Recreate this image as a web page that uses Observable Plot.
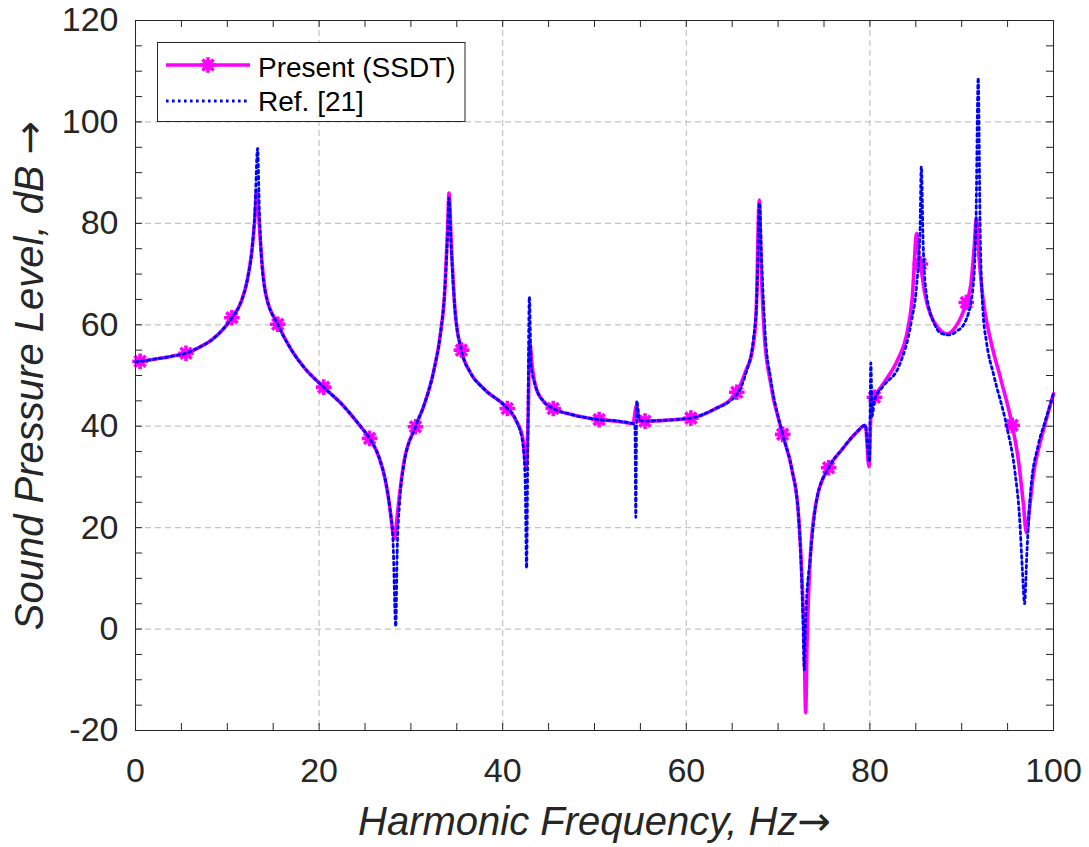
<!DOCTYPE html>
<html>
<head>
<meta charset="utf-8">
<script src="https://cdn.jsdelivr.net/npm/d3@7"></script>
<script src="https://cdn.jsdelivr.net/npm/@observablehq/plot@0.6"></script>
<style>
  html, body { margin: 0; padding: 0; background: #fff; }
  #chart svg { display: block; }
</style>
</head>
<body>
<div id="chart"></div>
<script>
// ---- Data ----
const presentFreq = [0, 0.5, 2, 4, 5.5, 7, 8.5, 10.5, 11.5, 12.2, 12.7, 13.0, 13.2, 13.4, 13.7, 14.2, 15.5, 17, 18.5, 20.5,
  22.5, 24.5, 25.5, 26.5, 27.2, 27.7, 28.0, 28.2, 28.4, 28.7, 29.2, 30.5, 31.5, 32.5, 33.2, 33.7, 34.0, 34.15, 34.4, 34.8,
  35.5, 36.5, 38, 40.5, 41.5, 42.2, 42.55, 42.75, 42.95, 43.2, 43.6, 44.5, 45.5, 47.5, 50.5, 52.5, 54.2, 54.55, 54.9, 55.5,
  58, 60.5, 63, 65.5, 66.5, 67.2, 67.6, 67.95, 68.15, 68.5, 69.1, 70.5, 71.5, 72.2, 72.6, 72.85, 73.0, 73.15, 73.5, 74.2,
  75.5, 77, 78.5, 79.5, 79.9, 80.15, 80.5, 81.5, 83, 84, 84.6, 85.1, 85.3, 85.5, 86, 86.6, 87.4, 88.4, 89.3, 90.5,
  91.0, 91.35, 91.6, 91.9, 92.3, 93.2, 94.3, 95.5, 96.2, 96.7, 97.05, 97.4, 97.8, 98.5, 99.1, 100];
const presentSpl = [52.7, 52.8, 53.2, 53.8, 54.4, 55.6, 57.3, 61.4, 64.5, 69, 75, 81, 86.5, 82, 74, 66, 60.1, 55, 51.3, 47.7,
  44.3, 40, 37.6, 34, 29.5, 24, 19.5, 17.8, 20.5, 25.5, 32.5, 39.9, 44.5, 51, 58, 67, 79, 86, 76, 63,
  55, 50.5, 47.3, 43.5, 41, 37.5, 32, 40, 56.5, 52, 47.8, 44.8, 43.5, 42.3, 41.3, 41, 40.5, 44, 41.2, 41.0,
  41.2, 41.6, 43.3, 46.7, 51, 55, 62, 84.6, 72, 58, 49.3, 38.4, 31.5, 23, 10, -3, -16.5, -3, 14, 25.5,
  31.8, 35.5, 38.7, 40.2, 32, 44, 45.7, 48.5, 53, 58, 65, 78, 74, 72, 66, 62, 59.5, 58.2, 59.5, 64.4,
  68, 75, 81, 73, 65.4, 56.6, 49, 40.2, 33, 25, 19, 24, 30.4, 36.5, 40.6, 46.4];

const refFreq = [0, 0.5, 2, 4, 5.5, 7, 8.5, 10.5, 11.5, 12.2, 12.7, 13.0, 13.3, 13.5, 13.7, 14.2, 15.5, 17, 18.5, 20.5,
  22.5, 24.5, 25.5, 26.5, 27.2, 27.7, 28.05, 28.35, 28.5, 28.75, 29.2, 30.5, 31.5, 32.5, 33.2, 33.7, 34.0, 34.15, 34.4, 34.8,
  35.5, 36.5, 38, 40.5, 41.5, 42.2, 42.45, 42.6, 42.75, 42.9, 43.1, 43.6, 44.5, 45.5, 47.5, 50.5, 52.5, 54.2, 54.4, 54.5,
  54.6, 54.9, 55.5, 58, 60.5, 63, 65.5, 66.5, 67.3, 67.7, 67.98, 68.2, 68.6, 69.2, 70.5, 71.5, 72.2, 72.5, 72.7, 72.85,
  73.0, 73.5, 74.2, 75.5, 77, 78.5, 79.5, 79.95, 80.1, 80.25, 80.5, 81.5, 83.2, 84.5, 85.1, 85.45, 85.6, 85.8, 86.1, 87.0,
  87.8, 88.6, 89.5, 90.3, 91.2, 91.55, 91.8, 92.0, 92.3, 92.7, 93.5, 94.9, 95.8, 96.3, 96.6, 96.85, 97.1, 97.5, 98.3, 99.1, 100];
const refSpl = [52.7, 52.8, 53.2, 53.8, 54.4, 55.6, 57.3, 61.4, 64.5, 69, 75, 82, 94.8, 82, 74, 66, 60.1, 55, 51.3, 47.7,
  44.3, 40, 37.6, 34, 29.5, 24, 17.5, 0.5, 15, 24.5, 32, 39.9, 44.5, 51, 58, 67, 78, 85, 75, 63,
  55, 50.5, 47.3, 43.5, 41, 36.5, 29, 12, 40, 65.5, 52, 47.8, 44.8, 43.5, 42.3, 41.3, 41, 40.5, 40.3, 22,
  45, 41.2, 41.0, 41.2, 41.6, 43.3, 46.3, 50.5, 57, 66, 84, 73, 58, 49.3, 38.4, 31.5, 23, 13, 2, -8,
  2, 14, 25.5, 31.8, 35.5, 38.7, 40.2, 33, 52.5, 42, 45.2, 48, 52, 60.5, 68, 78, 91.2, 76, 66.8, 60.3,
  58.3, 58, 58.8, 60.3, 66.8, 80, 108.7, 80, 63, 56.6, 50, 40, 31, 22, 12, 5, 15, 27, 36, 41, 46.4];

const markerFreq = [0.5, 5.5, 10.5, 15.5, 20.5, 25.5, 30.5, 35.5, 40.5, 45.5, 50.5, 55.5, 60.5, 65.5, 70.5, 75.5, 80.5, 85.5, 90.5, 95.5];

const xTicks = [0, 20, 40, 60, 80, 100];
const yTicks = [-20, 0, 20, 40, 60, 80, 100, 120];
const xMinorTicks = [0, 5, 10, 15, 20, 25, 30, 35, 40, 45, 50, 55, 60, 65, 70, 75, 80, 85, 90, 95, 100];
const yMinorTicks = [-20, -15, -10, -5, 0, 5, 10, 15, 20, 25, 30, 35, 40, 45, 50, 55, 60, 65, 70, 75, 80, 85, 90, 95, 100, 105, 110, 115, 120];

const seriesNames = ["Present (SSDT)", "Ref. [21]"];
const xLabel = "Harmonic Frequency, Hz";
const yLabel = "Sound Pressure Level, dB ";
const ARROW = "\u2192";

// ---- Tables ----
const present = presentFreq.map((f, i) => ({f, s: presentSpl[i]}));
const ref = refFreq.map((f, i) => ({f, s: refSpl[i]}));
const markers = present.filter(d => markerFreq.includes(d.f));

const MAGENTA = "#ff00ff";
const BLUE = "#0000ff";
const AXIS = "#262626";
const GRID = "#c4c4c4";
const FONT = "'Liberation Sans', Arial, Helvetica, sans-serif";

// MATLAB-like '*' marker: plus + times
const matlabStar = {
  draw(ctx, size) {
    const r = Math.sqrt(size / Math.PI);
    const d = r * 0.7071;
    ctx.moveTo(-r, 0); ctx.lineTo(r, 0);
    ctx.moveTo(0, -r); ctx.lineTo(0, r);
    ctx.moveTo(-d, -d); ctx.lineTo(d, d);
    ctx.moveTo(-d, d); ctx.lineTo(d, -d);
  }
};

const chart = Plot.plot({
  width: 1089,
  height: 847,
  marginLeft: 135,
  marginRight: 36,
  marginTop: 20,
  marginBottom: 117,
  style: {fontFamily: FONT, color: AXIS, background: "#fff"},
  x: {domain: [0, 100]},
  y: {domain: [-20, 120]},
  marks: [
    Plot.gridX(xTicks, {stroke: GRID, strokeOpacity: 1, strokeWidth: 1.2, strokeDasharray: "6,4"}),
    Plot.gridY(yTicks, {stroke: GRID, strokeOpacity: 1, strokeWidth: 1.2, strokeDasharray: "6,4"}),
    // inward ticks on four sides
    Plot.ruleX(xMinorTicks, {x: d => d, y1: -20, y2: -20, insetBottom: 7, stroke: AXIS, strokeWidth: 1}),
    Plot.ruleX(xMinorTicks, {x: d => d, y1: 120, y2: 120, insetBottom: -7, stroke: AXIS, strokeWidth: 1}),
    Plot.ruleY(yMinorTicks, {y: d => d, x1: 0, x2: 0, insetRight: -7, stroke: AXIS, strokeWidth: 1}),
    Plot.ruleY(yMinorTicks, {y: d => d, x1: 100, x2: 100, insetLeft: -7, stroke: AXIS, strokeWidth: 1}),
    Plot.axisX(xTicks, {tickSize: 0, tickPadding: 27, fontSize: 34, label: null, fill: AXIS, tickFormat: d => String(d)}),
    Plot.axisY(yTicks, {tickSize: 0, tickPadding: 17, fontSize: 34, label: null, fill: AXIS, tickFormat: d => String(d)}),
    Plot.line(present, {x: "f", y: "s", stroke: MAGENTA, strokeWidth: 3.6, curve: "monotone-x"}),
    Plot.dot(markers, {x: "f", y: "s", symbol: matlabStar, r: 7.8, fill: "none", stroke: MAGENTA, strokeWidth: 3.6}),
    Plot.line(ref, {x: "f", y: "s", stroke: BLUE, strokeWidth: 2.8, strokeDasharray: "2.6,3.4", curve: "monotone-x"}),
    Plot.text([xLabel], {frameAnchor: "bottom", dy: 76, lineAnchor: "top", fontSize: 40, fontStyle: "italic", fill: AXIS, text: d => d}),
    Plot.text([yLabel], {frameAnchor: "left", dx: -121, rotate: -90, textAnchor: "middle", lineAnchor: "top", fontSize: 40, fontStyle: "italic", fill: AXIS, text: d => d}),
    Plot.frame({stroke: AXIS, strokeWidth: 1})
  ]
});

const svg = d3.select(chart);

// Append a wide (TeX-like) arrow to the axis labels
svg.selectAll("text").filter(function() { return this.textContent === xLabel || this.textContent === yLabel; })
  .each(function() {
    const t = d3.select(this);
    const txt = this.textContent;
    t.text(null);
    t.append("tspan").text(txt);
    t.append("tspan").attr("font-family", "'DejaVu Sans', sans-serif").attr("font-style", "normal").text(ARROW);
  });

// ---- Legend (inside plot, top-left) ----
const lg = svg.append("g").attr("text-anchor", "start");
lg.append("rect").attr("x", 157.5).attr("y", 42.5).attr("width", 307.5).attr("height", 79)
  .attr("fill", "#fff").attr("stroke", AXIS).attr("stroke-width", 1);
lg.append("line").attr("x1", 166).attr("x2", 250).attr("y1", 65).attr("y2", 65)
  .attr("stroke", MAGENTA).attr("stroke-width", 3.6);
lg.append("path").attr("transform", "translate(208,65)")
  .attr("d", d3.symbol(matlabStar, Math.PI * 7.8 * 7.8)())
  .attr("fill", "none").attr("stroke", MAGENTA).attr("stroke-width", 3.6);
lg.append("line").attr("x1", 166).attr("x2", 250).attr("y1", 101).attr("y2", 101)
  .attr("stroke", BLUE).attr("stroke-width", 2.8).attr("stroke-dasharray", "2.6,3.4");
lg.append("text").attr("x", 258).attr("y", 76.5).attr("font-size", 28).attr("fill", "#000")
  .attr("text-anchor", "start").attr("font-family", FONT).text(seriesNames[0]);
lg.append("text").attr("x", 258).attr("y", 111).attr("font-size", 28).attr("fill", "#000")
  .attr("text-anchor", "start").attr("font-family", FONT).text(seriesNames[1]);

document.getElementById("chart").appendChild(chart);
</script>
</body>
</html>
